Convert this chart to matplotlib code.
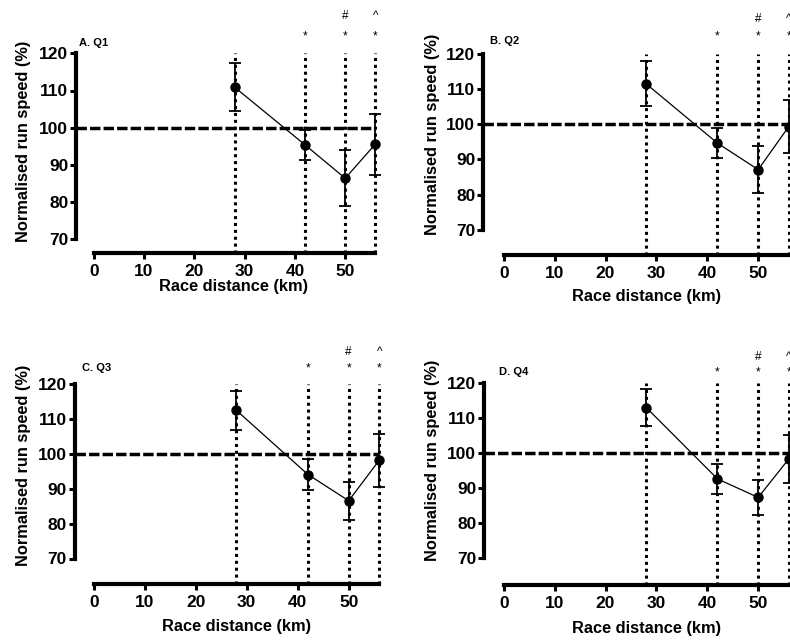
import matplotlib
matplotlib.use("Agg")
import matplotlib.pyplot as plt
import numpy as np

plt.rcParams["font.family"] = ["Liberation Sans", "DejaVu Sans"]

W, H = 790, 640

# data
distance_km = [28, 42, 50, 56]
xticks = [0, 10, 20, 30, 40, 50]
yticks = [70, 80, 90, 100, 110, 120]

q1_mean = [110.9, 95.4, 86.4, 95.6]
q1_sd = [6.4, 4.1, 7.5, 8.2]
q2_mean = [111.4, 94.6, 87.1, 99.3]
q2_sd = [6.4, 4.2, 6.6, 7.6]
q3_mean = [112.3, 94.0, 86.5, 98.1]
q3_sd = [5.7, 4.3, 5.5, 7.6]
q4_mean = [113.0, 92.6, 87.3, 98.3]
q4_sd = [5.3, 4.2, 4.9, 6.9]

panel_titles = ["A. Q1", "B. Q2", "C. Q3", "D. Q4"]
star_at = [42, 50, 56]
hash_at = [50]
caret_at = [56]

# pixel layout per panel: x of 0 km, px per km, y spine x, y of 120, px per unit, x axis y
layouts = [
    dict(x0=93.7, kx=5.03, yspine=76, y120=53.3, ky=3.72, xaxis=253,
         title=(79, 43), ylab=(24, 141), xlab=(234, 287), star=17, hash=37),
    dict(x0=503.7, kx=5.09, yspine=483, y120=53.5, ky=3.53, xaxis=255,
         title=(490, 41), ylab=(432, 134), xlab=(647, 297), star=17, hash=34),
    dict(x0=93.7, kx=5.1, yspine=74.5, y120=383.5, ky=3.5, xaxis=583.5,
         title=(82, 368), ylab=(24, 465), xlab=(237, 626), star=15, hash=32),
    dict(x0=503.7, kx=5.09, yspine=484, y120=383, ky=3.5, xaxis=585,
         title=(499, 372), ylab=(432, 460), xlab=(647, 628), star=11, hash=26),
]


def px(x, y):
    return x / W, 1 - y / H


def draw_panel(fig, lay, mean, sd, title):
    xmax = 56.6
    xmin = (lay["yspine"] - lay["x0"]) / lay["kx"]
    ymin = 120 - (lay["xaxis"] - lay["y120"]) / lay["ky"]
    right = lay["x0"] + lay["kx"] * xmax
    ax = fig.add_axes([lay["yspine"] / W, 1 - lay["xaxis"] / H,
                       (right - lay["yspine"]) / W,
                       (lay["xaxis"] - lay["y120"]) / H])
    ax.set_xlim(xmin, xmax)
    ax.set_ylim(ymin, 120)
    ax.patch.set_alpha(0)

    for s in ["top", "right"]:
        ax.spines[s].set_visible(False)
    for s in ["left", "bottom"]:
        ax.spines[s].set_linewidth(3.0)
    ax.spines["left"].set_bounds(70, 120)
    ax.spines["bottom"].set_bounds(0, 56)

    ax.set_xticks(xticks)
    ax.set_yticks(yticks)
    ax.tick_params(direction="out", length=4, width=2.2, labelsize=12.5)
    ax.tick_params(axis="x", pad=4)
    ax.tick_params(axis="y", pad=1.5)
    for lbl in ax.get_xticklabels() + ax.get_yticklabels():
        lbl.set_fontweight("bold")

    ax.plot([xmin, 56], [100, 100], color="black", lw=2.5,
            dashes=(3, 0.9), solid_capstyle="butt", zorder=2, clip_on=False)
    ax.errorbar(distance_km, mean, yerr=sd, fmt="o-", color="black", ms=6.5,
                lw=0.9, elinewidth=1.3, capsize=4.5, capthick=1.3,
                zorder=3, clip_on=False)
    ax.vlines(distance_km, ymin, 120, colors="black", linestyles=(0, (1.0, 1.25)),
              lw=2.2, zorder=4, clip_on=False)

    for d in star_at:
        ax.annotate("*", (d, 120), xytext=(0, lay["star"] * 0.72),
                    textcoords="offset points", ha="center", va="center",
                    fontsize=8.5, annotation_clip=False)
    for d in hash_at:
        ax.annotate("#", (d, 120), xytext=(0, lay["hash"] * 0.72),
                    textcoords="offset points", ha="center", va="center",
                    fontsize=8.5, annotation_clip=False)
    for d in caret_at:
        ax.annotate("^", (d, 120), xytext=(0, lay["hash"] * 0.72),
                    textcoords="offset points", ha="center", va="center",
                    fontsize=8.5, annotation_clip=False)

    tx, ty = px(*lay["title"])
    fig.text(tx, ty, title, ha="left", va="center", fontsize=8,
             fontweight="bold")
    lx, ly = px(*lay["ylab"])
    fig.text(lx, ly, "Normalised run speed (%)", rotation=90, ha="center",
             va="center", fontsize=11.8, fontweight="bold")
    bx, by = px(*lay["xlab"])
    fig.text(bx, by, "Race distance (km)", ha="center", va="center",
             fontsize=11.8, fontweight="bold")
    return ax


fig = plt.figure(figsize=(W / 100, H / 100), dpi=100)
means = [q1_mean, q2_mean, q3_mean, q4_mean]
sds = [q1_sd, q2_sd, q3_sd, q4_sd]
for lay, m, s, t in zip(layouts, means, sds, panel_titles):
    draw_panel(fig, lay, m, s, t)

fig.savefig("out.png", dpi=100)
